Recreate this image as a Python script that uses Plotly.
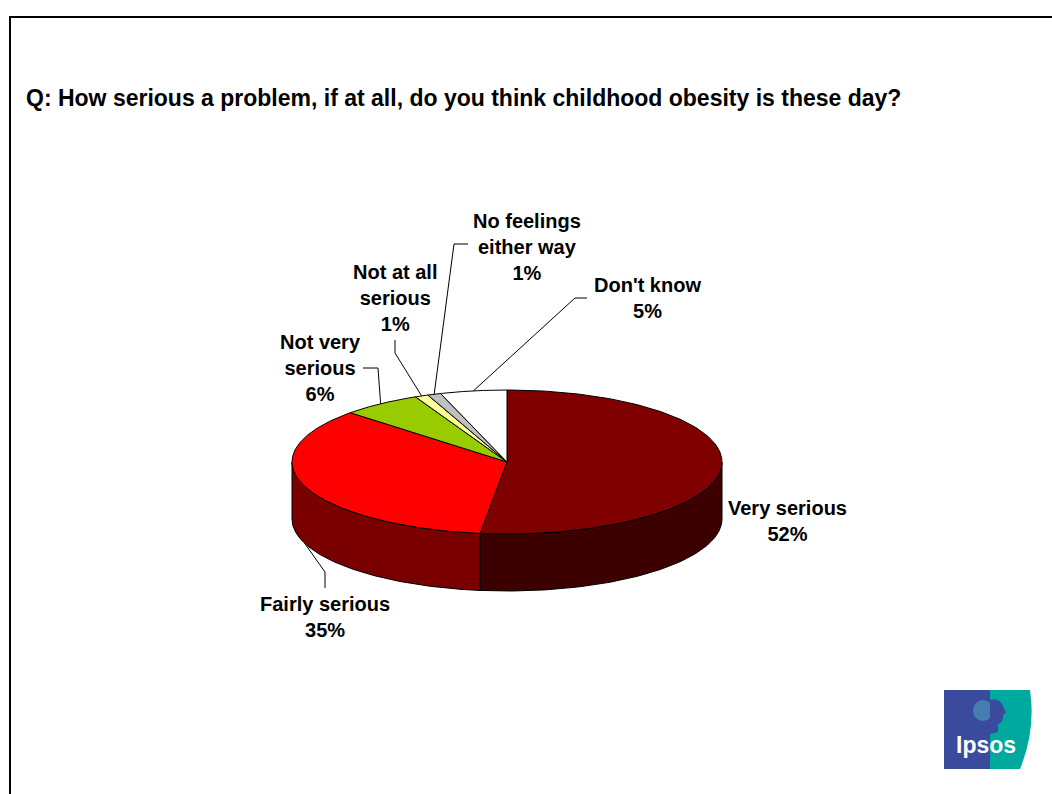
import numpy as np
import plotly.graph_objects as go

# Survey responses
categories = ["Very serious", "Fairly serious", "Not very serious",
              "Not at all serious", "No feelings either way", "Don't know"]
label_lines = ["Very serious", "Fairly serious", "Not very<br>serious",
               "Not at all<br>serious", "No feelings<br>either way", "Don't know"]
values = [52, 35, 6, 1, 1, 5]

top_colors = ["#800000", "#FF0000", "#99CC00", "#FFFF99", "#C0C0C0", "#FFFFFF"]
side_colors = ["#3D0000", "#7A0000", "#4C6600", "#80804C", "#606060", "#808080"]

title = "Q: How serious a problem, if at all, do you think childhood obesity is these day?"

# Pie geometry (axis units equal screen pixels)
W, H = 1052, 794
CX, CY, RX, RY, DEPTH = 507, 462, 215, 72, 57

# Label anchor positions and leader-line elbows
label_pos = [(787, 521), (325, 617), (320, 368), (395, 298), (527, 247), (647, 298)]
leader_elbows = [None,
                 [(325, 572), (325, 588)],
                 [(378, 368), (363, 368)],
                 [(395, 353), (395, 340)],
                 [(454, 244), (468, 244)],
                 [(575, 298), (587, 298)]]

FONT = "Liberation Sans, Arial, sans-serif"


def rim(t_deg, dy=0.0):
    t = np.radians(t_deg)
    return CX + RX * np.sin(t), CY - RY * np.cos(t) + dy


total = float(sum(values))
bounds = np.concatenate([[0.0], np.cumsum(values) / total * 360.0])

fig = go.Figure()

# Side walls: only the front half (90..270 deg clockwise from top) is visible
for i in range(len(values)):
    a0, a1 = max(bounds[i], 90.0), min(bounds[i + 1], 270.0)
    if a1 <= a0:
        continue
    ts = np.linspace(a0, a1, 120)
    xt, yt = rim(ts)
    xb, yb = rim(ts[::-1], DEPTH)
    xs = np.concatenate([xt, xb, xt[:1]])
    ys = np.concatenate([yt, yb, yt[:1]])
    fig.add_trace(go.Scatter(x=xs, y=ys, mode="lines", fill="toself",
                             fillcolor=side_colors[i],
                             line=dict(color="black", width=1),
                             hoverinfo="skip", showlegend=False))

# Top faces
for i in range(len(values)):
    ts = np.linspace(bounds[i], bounds[i + 1], 200)
    xa, ya = rim(ts)
    xs = np.concatenate([[CX], xa, [CX]])
    ys = np.concatenate([[CY], ya, [CY]])
    fig.add_trace(go.Scatter(x=xs, y=ys, mode="lines", fill="toself",
                             fillcolor=top_colors[i],
                             line=dict(color="black", width=1),
                             hoverinfo="text", text=f"{categories[i]}: {values[i]}%",
                             showlegend=False))

# Leader lines from slice mid-angle to labels
for i in range(len(values)):
    if leader_elbows[i] is None:
        continue
    mid = (bounds[i] + bounds[i + 1]) / 2.0
    dy = DEPTH if 90.0 < mid < 270.0 else 0.0
    x0, y0 = rim(mid, dy)
    xs = [x0] + [p[0] for p in leader_elbows[i]]
    ys = [y0] + [p[1] for p in leader_elbows[i]]
    fig.add_trace(go.Scatter(x=xs, y=ys, mode="lines",
                             line=dict(color="black", width=1),
                             hoverinfo="skip", showlegend=False))

annotations = []
for i in range(len(values)):
    lx, ly = label_pos[i]
    annotations.append(dict(
        x=lx, y=ly, xref="x", yref="y", showarrow=False,
        xanchor="center", yanchor="middle", align="center",
        text=f"<b>{label_lines[i]}<br>{values[i]}%</b>",
        font=dict(family=FONT, size=20, color="black")))

annotations.append(dict(
    x=24, y=98, xref="x", yref="y", showarrow=False,
    xanchor="left", yanchor="middle", text=f"<b>{title}</b>",
    font=dict(family=FONT, size=23, color="black")))

# Ipsos logo
annotations.append(dict(
    x=986, y=745, xref="x", yref="y", showarrow=False,
    xanchor="center", yanchor="middle", text="<b>Ipsos</b>",
    font=dict(family=FONT, size=23, color="white")))

shapes = [
    # frame
    dict(type="line", xref="x", yref="y", x0=9, x1=W, y0=17, y1=17,
         line=dict(color="black", width=2)),
    dict(type="line", xref="x", yref="y", x0=10, x1=10, y0=16, y1=H,
         line=dict(color="black", width=2)),
    # logo background
    dict(type="rect", xref="x", yref="y", x0=944, x1=990, y0=690, y1=769,
         fillcolor="#3A4B9E", line=dict(width=0), layer="above"),
    dict(type="path", xref="x", yref="y",
         path="M 990 690 L 1030 690 Q 1036 730 1020 769 L 990 769 Z",
         fillcolor="#00A99E", line=dict(width=0), layer="above"),
    # tree canopy and face silhouette
    dict(type="circle", xref="x", yref="y", x0=973, x1=993, y0=700, y1=721,
         fillcolor="#4FB3C0", opacity=0.5, line=dict(width=0), layer="above"),
    dict(type="path", xref="x", yref="y",
         path="M 990 700 Q 999 697 1003 706 L 1006 713 L 1003 715 "
              "Q 1004 722 998 724 L 998 732 L 990 734 Z",
         fillcolor="#3A4B9E", line=dict(width=0), layer="above"),
]

fig.update_layout(
    width=W, height=H,
    margin=dict(l=0, r=0, t=0, b=0),
    paper_bgcolor="white", plot_bgcolor="white",
    xaxis=dict(range=[0, W], visible=False, fixedrange=True),
    yaxis=dict(range=[H, 0], visible=False, fixedrange=True),
    annotations=annotations, shapes=shapes,
    showlegend=False,
)

fig.write_html("out.html")
